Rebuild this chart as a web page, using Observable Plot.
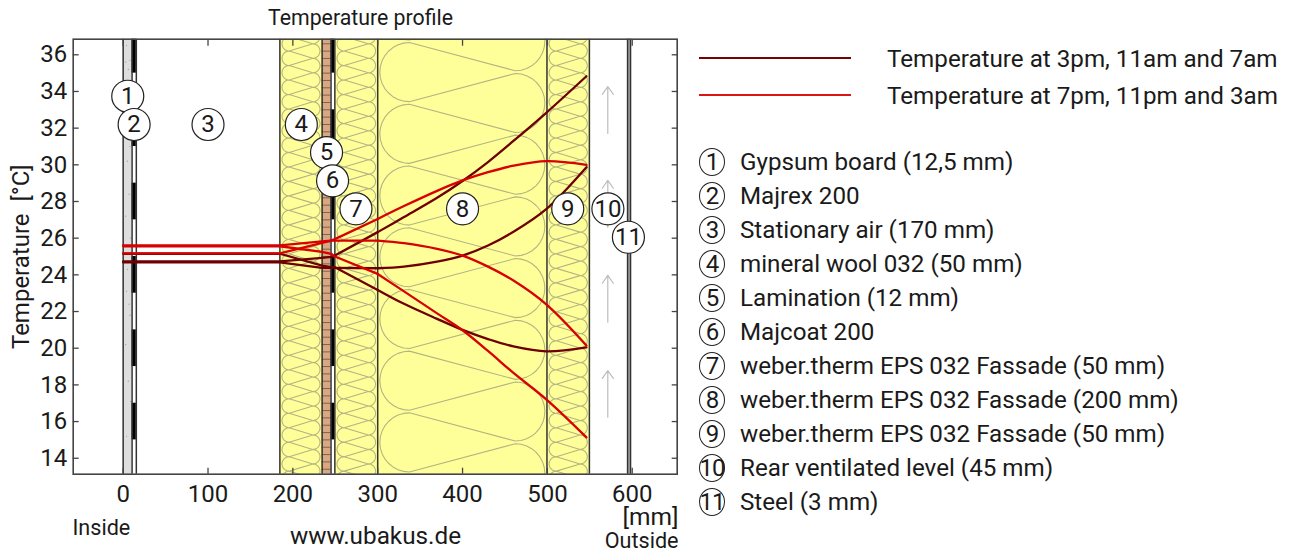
<!DOCTYPE html>
<html><head><meta charset="utf-8">
<script src="https://cdn.jsdelivr.net/npm/d3@7"></script>
<script src="https://cdn.jsdelivr.net/npm/@observablehq/plot@0.6"></script>
<style>
html,body{margin:0;padding:0;background:#fff;overflow:hidden}
#wrap{position:relative;width:1290px;height:551px;font-family:Roboto,sans-serif;color:#1a1a1a}
#wrap svg{position:absolute;left:0;top:0}
.lg{position:absolute;left:699px;height:2px;width:152px}
.lt{position:absolute;left:887px;font-size:24.2px;line-height:26px;white-space:nowrap}
.it{position:absolute;left:699px;height:28px;display:flex;align-items:center;font-size:24.2px;white-space:nowrap}
.it i{font-style:normal;box-sizing:border-box;width:26px;height:28px;border:1.3px solid #222;border-radius:50%;display:flex;align-items:center;justify-content:center;margin-right:15px;font-size:24px;letter-spacing:-1px}
</style></head><body><div id="wrap"></div>
<script>
// axes
const xTicks = [0,100,200,300,400,500,600];
const yTicks = [14,16,18,20,22,24,26,28,30,32,34,36];
const xDomain = [-58.9,653];
const yDomain = [13.13,36.85];
// temperature curves, read at these depths (mm)
const depth = [0,184.7,234.5,245,249.5,300,331,370,400,430,460,499,546];
const dark1 = [24.74,24.74,24.93,24.98,25.05,26.33,27.15,28.2,29.12,30.15,31.3,32.85,34.83];
const dark2 = [24.68,24.68,24.38,24.38,24.38,24.36,24.45,24.72,25.05,25.6,26.35,27.6,29.87];
const dark3 = [25.15,25.15,24.5,24.42,24.42,23.18,22.42,21.6,21.0,20.5,20.1,19.83,20.05];
const red1 = [25.17,25.17,25.75,25.87,25.95,27.05,27.75,28.58,29.15,29.6,29.95,30.2,30.0];
const red2 = [25.61,25.61,25.82,25.87,25.87,25.87,25.73,25.42,25.05,24.45,23.69,22.38,20.15];
const red3 = [25.56,25.56,25.25,25.15,25.0,24.05,23.1,21.9,20.98,19.85,18.65,17.2,15.14];
// wall layers (mm)
const gypsum = [0,10.5];
const majrex = [10.5,15.5];
const lamination = [234.5,245];
const majcoat = [245,249.5];
const steel = [594.5,598];
const wool = [[184.7,234.5],[249.5,300],[499.5,549.5]];
const eps = [[300,499.5]];
const borders = [0,10.5,15.5,184.7,234.5,245,249.5,300,499.5,549.5,594.5,598];
const blackBands = [[35,37],[31,33],[27,29],[23,25],[19,21],[15,17]];
const laminationLines = [13.4,13.8,14.2,14.6,15,15.4,15.8,16.2,16.6,17,17.4,17.8,18.2,18.6,19,19.4,19.8,20.2,20.6,21,21.4,21.8,22.2,22.6,23,23.4,23.8,24.2,24.6,25,25.4,25.8,26.2,26.6,27,27.4,27.8,28.2,28.6,29,29.4,29.8,30.2,30.6,31,31.4,31.8,32.2,32.6,33,33.4,33.8,34.2,34.6,35,35.4,35.8,36.2,36.6];
const gypsumSpecksX = [4,8,6,3,8,5,7,3,9,5,4,7,8,3,6,9,4];
const gypsumSpecksY = [36.5,35.7,35.2,35.6,31,30.2,28.4,27.2,26,24.3,23.1,22.4,21.8,20.2,18.2,17.1,15.2];
const arrowTop = [34.27,29.15,23.97,18.78];
const arrowBottom = [31.71,26.6,21.42,16.24];
const arrowX = 571.2;
// numbered badges
const badgeN = [1,2,3,4,5,6,7,8,9,10,11];
const badgeX = [5.4,12.9,100,210,239.7,246.8,274.4,400,524,571.3,595.5];
const badgeY = [33.74,32.2,32.2,32.2,30.67,29.13,27.6,27.6,27.6,27.6,26.05];
const layerNames = ["Gypsum board (12,5 mm)","Majrex 200","Stationary air (170 mm)","mineral wool 032 (50 mm)","Lamination (12 mm)","Majcoat 200","weber.therm EPS 032 Fassade (50 mm)","weber.therm EPS 032 Fassade (200 mm)","weber.therm EPS 032 Fassade (50 mm)","Rear ventilated level (45 mm)","Steel (3 mm)"];
const seriesNames = ["Temperature at 3pm, 11am and 7am","Temperature at 7pm, 11pm and 3am"];
const darkColor = "#6e0000", redColor = "#d80000";

const curves = [[dark1,darkColor],[dark2,darkColor],[dark3,darkColor],[red1,redColor],[red2,redColor],[red3,redColor]];
const rows = (from,to) => curves.flatMap(([v,c],i)=>depth.slice(from,to).map((d,j)=>({d,t:v[from+j],c,i})));

// insulation bat symbol in data units: alternate half-loops joined by straight lines
const mmPerDeg = 21.6;
function bat([a,b],rMm,period,phase,inset){
  const pts=[], cl=a+inset+rMm, cr=b-inset-rMm, ry=rMm/mmPerDeg;
  const n=Math.ceil(26/period);
  for(let k=0;k<=n;k++){
    const yl=phase+k*period, yr=yl+period/2;
    for(let s=0;s<=16;s++){const th=-Math.PI/2-s*Math.PI/16; pts.push([cl+rMm*Math.cos(th),yl+ry*Math.sin(th)]);}
    for(let s=0;s<=16;s++){const th=-Math.PI/2+s*Math.PI/16; pts.push([cr+rMm*Math.cos(th),yr+ry*Math.sin(th)]);}
  }
  return pts;
}
const batLines = [...wool.map(w=>bat(w,8.5,0.79,12.9,2.5)),...eps.map(e=>bat(e,34.8,3.365,11.5,2.5))];
const batCol="#b4b484";

const plot = Plot.plot({
  width:690,height:551,
  marginLeft:72.7,marginRight:13.3,marginTop:38.7,marginBottom:77.3,
  style:{fontFamily:"Roboto,sans-serif",fontSize:"24px",color:"#1a1a1a",background:"transparent",overflow:"visible"},
  x:{domain:xDomain,label:null},
  y:{domain:yDomain,label:null},
  marks:[
    Plot.rectY([gypsum],{x1:d=>d[0],x2:d=>d[1],y1:yDomain[0],y2:yDomain[1],fill:"#dedede"}),
    Plot.dot(gypsumSpecksX,{x:d=>d,y:(d,i)=>gypsumSpecksY[i],r:0.6,fill:"#999"}),
    Plot.rectY(wool.concat(eps),{x1:d=>d[0],x2:d=>d[1],y1:yDomain[0],y2:yDomain[1],fill:"#ffff99"}),
    ...batLines.map(p=>Plot.line(p,{x:d=>d[0],y:d=>d[1],stroke:batCol,strokeWidth:1.1,clip:"frame"})),
    Plot.rectY([lamination],{x1:d=>d[0],x2:d=>d[1],y1:yDomain[0],y2:yDomain[1],fill:"#d9a882"}),
    Plot.ruleY(laminationLines,{y:d=>d,x1:lamination[0],x2:lamination[1],stroke:"#7d6350",strokeWidth:1}),
    Plot.rectY(blackBands,{x1:majrex[0],x2:majrex[1],y1:d=>Math.max(d[0],yDomain[0]),y2:d=>Math.min(d[1],yDomain[1]),fill:"#000"}),
    Plot.rectY(blackBands,{x1:majcoat[0],x2:majcoat[1],y1:d=>Math.max(d[0],yDomain[0]),y2:d=>Math.min(d[1],yDomain[1]),fill:"#000"}),
    Plot.rectY([steel],{x1:d=>d[0],x2:d=>d[1],y1:yDomain[0],y2:yDomain[1],fill:"#aaa"}),
    Plot.ruleX(borders,{x:d=>d,stroke:"#333",strokeWidth:1.5}),
    Plot.arrow(arrowTop,{x1:arrowX,x2:arrowX,y1:(d,i)=>arrowBottom[i],y2:d=>d,bend:0,stroke:"#bdbdbd",strokeWidth:1.2,headLength:12,headAngle:70,insetStart:0,insetEnd:0}),
    Plot.line(rows(0,6),{x:"d",y:"t",z:"i",stroke:"c",strokeWidth:2.3,curve:"linear"}),
    Plot.line(rows(5,13),{x:"d",y:"t",z:"i",stroke:"c",strokeWidth:2.3,curve:"catmull-rom"}),
    Plot.frame({stroke:"#444",strokeWidth:1.6}),
    Plot.axisX(xTicks,{anchor:"bottom",tickSize:-6,tickPadding:17,stroke:"#444",strokeWidth:1.3,fill:"#1a1a1a",label:null}),
    Plot.axisX(xTicks,{anchor:"top",tickSize:-6,text:null,stroke:"#444",strokeWidth:1.3,label:null}),
    Plot.axisY(yTicks,{anchor:"left",tickSize:-6,tickPadding:12,stroke:"#444",strokeWidth:1.3,fill:"#1a1a1a",label:"Temperature\u00a0\u00a0[°C]",labelAnchor:"center",labelArrow:"none",labelOffset:61}),
    Plot.axisY(yTicks,{anchor:"right",tickSize:-6,text:null,stroke:"#444",strokeWidth:1.3,label:null}),
    Plot.dot(badgeN,{x:(d,i)=>badgeX[i],y:(d,i)=>badgeY[i],r:16,fill:"#fff",stroke:"#222",strokeWidth:1.2}),
    Plot.text(badgeN,{x:(d,i)=>badgeX[i],y:(d,i)=>badgeY[i],text:d=>String(d),fontSize:24,fill:"#1a1a1a"}),
    Plot.text(["Temperature profile"],{x:279.7,y:37.98,text:d=>d,fontSize:21.3,fill:"#1a1a1a"}),
    Plot.text(["www.ubakus.de"],{x:297.4,y:9.73,text:d=>d,fontSize:24.3,fill:"#1a1a1a"}),
    Plot.text(["Inside"],{x:-59.8,y:10.2,text:d=>d,textAnchor:"start",fontSize:21.6,fill:"#1a1a1a"}),
    Plot.text(["[mm]"],{x:654.6,y:10.8,text:d=>d,textAnchor:"end",fontSize:24.5,fill:"#1a1a1a"}),
    Plot.text(["Outside"],{x:654.6,y:9.5,text:d=>d,textAnchor:"end",fontSize:21.6,fill:"#1a1a1a"})
  ]
});
const wrap=document.getElementById("wrap");
wrap.appendChild(plot);
const legend=document.createElement("div");
const lineY=[57,94], textY=[46,83], colors=["#7a0000","#dc1414"];
let h="";
seriesNames.forEach((s,i)=>{h+=`<div class="lg" style="top:${lineY[i]}px;background:${colors[i]}"></div><div class="lt" style="top:${textY[i]}px">${s}</div>`;});
layerNames.forEach((s,i)=>{h+=`<div class="it" style="top:${148+34*i}px"><i>${badgeN[i]}</i>${s}</div>`;});
legend.innerHTML=h;
wrap.appendChild(legend);
</script></body></html>
